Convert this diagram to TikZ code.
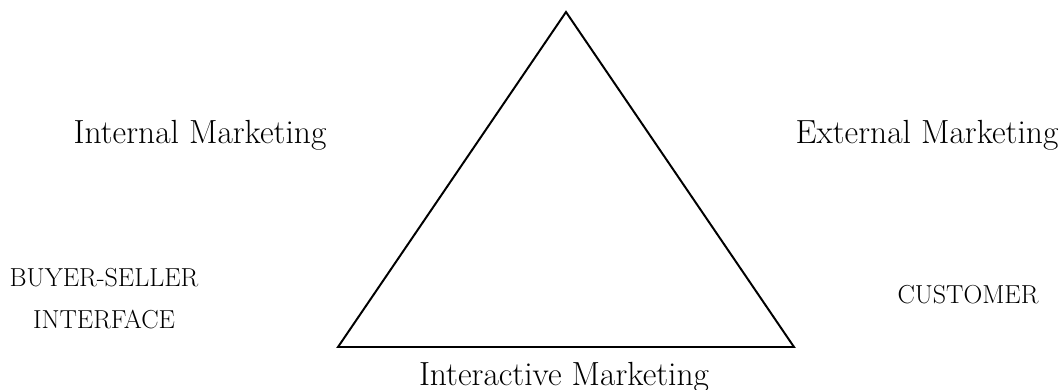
\documentclass[tikz,border=0pt]{standalone}
\usepackage{tikz}
\usetikzlibrary{positioning}
\tikzstyle{bigname} = [
	font=\fontsize{23.8}{26}\selectfont,
	inner sep=0pt,
	anchor=base
]
\tikzstyle{capname} = [
	font=\fontsize{18.5}{22}\selectfont,
	inner sep=0pt,
	anchor=base
]
\tikzstyle{edge} = [
	draw=black,
	line width=1.4pt,
	line join=miter
]
\begin{document}
\begin{tikzpicture}[x=0.025cm, y=-0.025cm]
	\useasboundingbox (0,0) rectangle (1059,389);
	
	%
	% Corners of the triangle
	\coordinate (Apex) at (566,12);
	\coordinate (Left) at (338,347);
	\coordinate (Right) at (794,347);
	\draw[edge] (Apex) -- (Right) -- (Left) -- cycle;
	
	% Marketing labels
	\node[bigname] (Internal) at (200,143) {Internal Marketing};
	\node[bigname] (External) at (927,143) {External Marketing};
	\node[bigname] (Interactive) at (564,385) {Interactive Marketing};
	
	% Side labels
	\node[capname] (Buyer) at (104,286) {BUYER-SELLER};
	\node[capname] (Interface) at (104,328) {INTERFACE};
	\node[capname] (Customer) at (968,303) {CUSTOMER};
	
\end{tikzpicture}
\end{document}
